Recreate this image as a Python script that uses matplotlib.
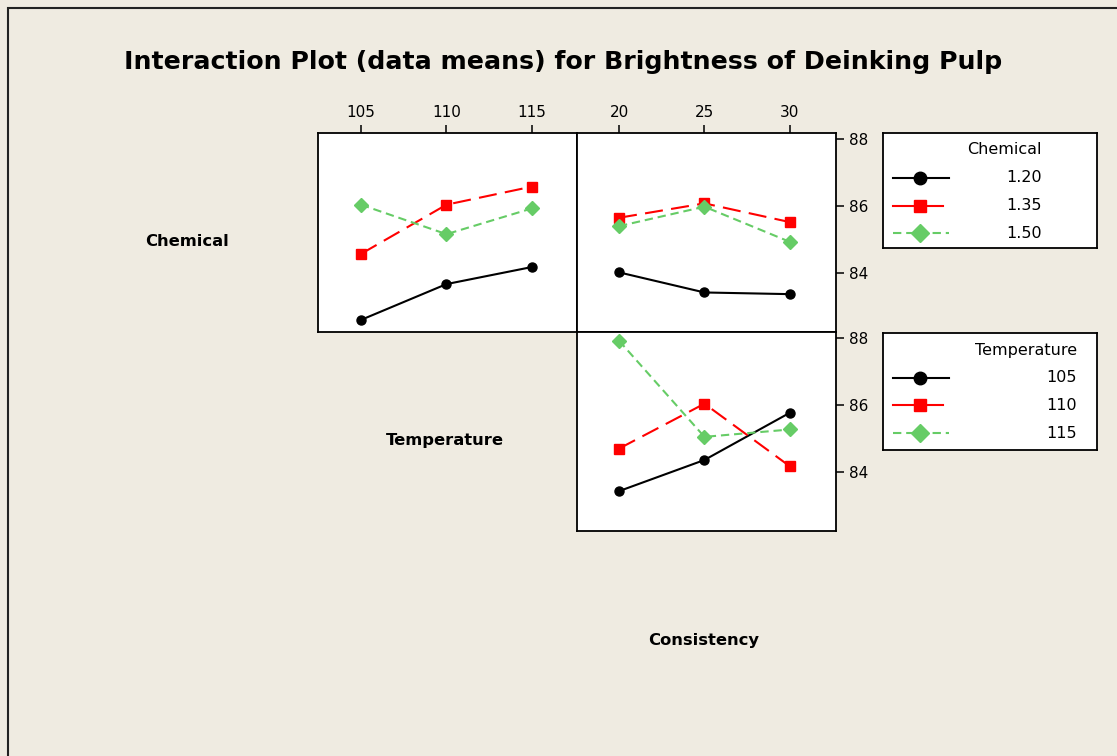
import numpy as np
import matplotlib
matplotlib.use('Agg')
import matplotlib.pyplot as plt
from matplotlib.patches import Rectangle
from matplotlib.lines import Line2D

temperature = [105, 110, 115]
consistency = [20, 25, 30]
chemical_levels = ['1.20', '1.35', '1.50']
temperature_levels = ['105', '110', '115']

# Chemical x Temperature (means)
chem_by_temp = {
    '1.20': [82.60, 83.67, 84.18],
    '1.35': [84.57, 86.04, 86.58],
    '1.50': [86.04, 85.16, 85.93],
}
# Chemical x Consistency
chem_by_cons = {
    '1.20': [84.02, 83.42, 83.37],
    '1.35': [85.65, 86.08, 85.52],
    '1.50': [85.40, 85.98, 84.93],
}
# Temperature x Consistency
temp_by_cons = {
    '105': [83.43, 84.36, 85.77],
    '110': [84.70, 86.04, 84.17],
    '115': [87.92, 85.05, 85.27],
}

bg = '#EFEBE1'
plt.rcParams['lines.scale_dashes'] = False
styles = [
    dict(color='black', ls='-', marker='o', ms=6.5, mfc='black', mec='black'),
    dict(color='#FF0000', ls=(0, (13, 6)), marker='s', ms=6.5, mfc='#FF0000', mec='#FF0000'),
    dict(color='#66CC66', ls=(0, (6, 3.5)), marker='D', ms=7, mfc='#66CC66', mec='#66CC66'),
]

W, H = 1117, 756
fig = plt.figure(figsize=(W / 100, H / 100), dpi=100, facecolor=bg)

def px_axes(x0, y0, x1, y1):
    return fig.add_axes([x0 / W, 1 - y1 / H, (x1 - x0) / W, (y1 - y0) / H])

# outer frame
fig.patches.append(Rectangle((8 / W, -0.1), 1.2, 1.1 - 8 / H, transform=fig.transFigure,
                             fill=False, lw=1.5, ec='#222222'))

ylim = (82.24, 88.18)
ax1 = px_axes(318, 133, 577, 332)
ax2 = px_axes(577, 133, 836, 332)
ax3 = px_axes(577, 332, 836, 531)

for i, lev in enumerate(chemical_levels):
    ax1.plot(temperature, chem_by_temp[lev], lw=1.5, **styles[i])
    ax2.plot(consistency, chem_by_cons[lev], lw=1.5, **styles[i])
for i, lev in enumerate(temperature_levels):
    ax3.plot(consistency, temp_by_cons[lev], lw=1.5, **styles[i])

ax1.set_xlim(102.49, 117.63)
ax2.set_xlim(17.54, 32.7)
ax3.set_xlim(17.54, 32.7)

for ax in (ax1, ax2, ax3):
    ax.set_ylim(*ylim)
    ax.set_facecolor('white')
    for s in ax.spines.values():
        s.set_linewidth(1.3)
    ax.tick_params(length=6, width=1.1, labelsize=11, pad=3)

for ax in (ax1, ax2):
    ax.xaxis.tick_top()
ax1.set_xticks(temperature)
ax2.set_xticks(consistency)
ax3.set_xticks([])
ax1.set_yticks([])
for ax in (ax2, ax3):
    ax.yaxis.tick_right()
    ax.set_yticks([84, 86, 88])

# titles and factor labels
fig.text(0.5045, 1 - 62 / H, 'Interaction Plot (data means) for Brightness of Deinking Pulp',
         ha='center', va='center', fontsize=18.2, fontweight='bold')
fig.text(187 / W, 1 - 241 / H, 'Chemical', ha='center', va='center', fontsize=11.8, fontweight='bold')
fig.text(445 / W, 1 - 441 / H, 'Temperature', ha='center', va='center', fontsize=11.8, fontweight='bold')
fig.text(704 / W, 1 - 641 / H, 'Consistency', ha='center', va='center', fontsize=11.8, fontweight='bold')

# legends
def draw_legend(y0, y1, title, labels, xr, rows):
    lg = px_axes(883, y0, 1097, y1)
    lg.set_xlim(0, 214)
    lg.set_ylim(y1 - y0, 0)
    lg.set_xticks([])
    lg.set_yticks([])
    lg.set_facecolor('white')
    for s in lg.spines.values():
        s.set_linewidth(1.3)
    lg.text(xr, 17, title, ha='right', va='center', fontsize=11.5)
    ends = [66, 60, 66]
    for i, lab in enumerate(labels):
        st = dict(styles[i])
        lg.plot([10, ends[i]], [rows[i]] * 2, lw=1.5, color=st['color'],
                ls='-' if i < 2 else st['ls'])
        lg.plot([37], [rows[i]], marker=st['marker'], ms=9, color=st['color'], ls='none')
        lg.text(xr, rows[i], lab, ha='right', va='center', fontsize=11.5)

draw_legend(133, 248, 'Chemical', chemical_levels, 159, [45, 73, 100])
draw_legend(333, 450, 'Temperature', temperature_levels, 194, [45, 72, 100])

fig.savefig('out.png', dpi=100, facecolor=bg)
